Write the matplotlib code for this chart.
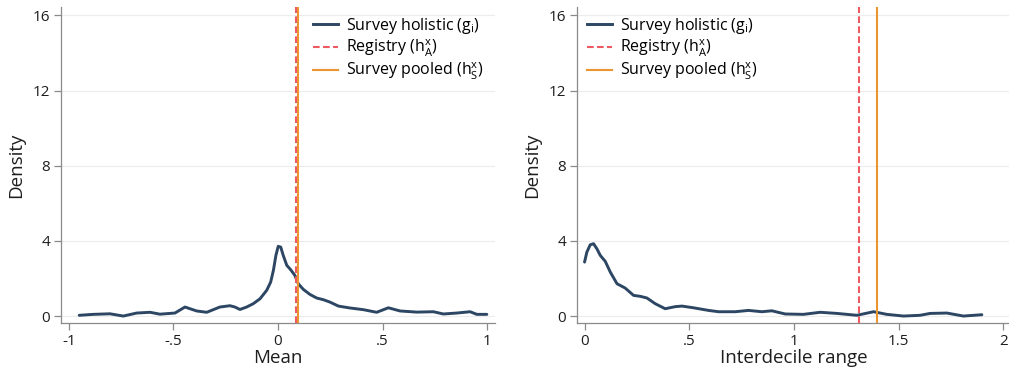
import matplotlib
matplotlib.use("Agg")
import matplotlib.pyplot as plt
from matplotlib.lines import Line2D

plt.rcParams['font.family'] = ['Open Sans', 'DejaVu Sans']
plt.rcParams['mathtext.fontset'] = 'custom'
plt.rcParams['mathtext.rm'] = 'Open Sans'

# ---- data: left panel (Mean) ----
mean_x = [-0.951, -0.884, -0.804, -0.74, -0.676, -0.612, -0.565, -0.493, -0.445, -0.389,
          -0.341, -0.278, -0.230, -0.206, -0.182, -0.150, -0.118, -0.086, -0.054, -0.035,
          -0.022, -0.010, 0.001, 0.013, 0.025, 0.042, 0.061, 0.081, 0.097, 0.121,
          0.153, 0.185, 0.217, 0.249, 0.289, 0.344, 0.408, 0.472, 0.528, 0.584,
          0.664, 0.743, 0.791, 0.855, 0.919, 0.951, 0.999]
mean_y = [0.04, 0.09, 0.12, 0.0, 0.16, 0.2, 0.1, 0.16, 0.48, 0.27,
          0.2, 0.48, 0.55, 0.48, 0.35, 0.48, 0.66, 0.92, 1.37, 1.81,
          2.43, 3.23, 3.71, 3.67, 3.23, 2.70, 2.46, 2.16, 1.72, 1.42,
          1.15, 0.96, 0.87, 0.74, 0.53, 0.43, 0.34, 0.2, 0.44, 0.27,
          0.21, 0.23, 0.11, 0.16, 0.23, 0.09, 0.09]
mean_registry = 0.087
mean_pooled = 0.094

# ---- data: right panel (Interdecile range) ----
idr_x = [0.0, 0.011, 0.027, 0.043, 0.059, 0.075, 0.099, 0.123, 0.155, 0.194,
         0.234, 0.266, 0.298, 0.337, 0.385, 0.433, 0.465, 0.520, 0.592, 0.64,
         0.719, 0.783, 0.847, 0.894, 0.958, 1.045, 1.125, 1.205, 1.30, 1.38,
         1.443, 1.523, 1.602, 1.65, 1.73, 1.809, 1.897]
idr_y = [2.87, 3.40, 3.79, 3.85, 3.58, 3.23, 2.91, 2.34, 1.72, 1.49,
         1.10, 1.05, 0.96, 0.66, 0.39, 0.50, 0.53, 0.44, 0.30, 0.23,
         0.23, 0.30, 0.23, 0.28, 0.11, 0.09, 0.2, 0.14, 0.04, 0.23,
         0.09, 0.0, 0.04, 0.14, 0.16, 0.0, 0.07]
idr_registry = 1.308
idr_pooled = 1.397

y_ticks = [0, 4, 8, 12, 16]
y_ticklabels = ['0', '4', '8', '12', '16']
mean_ticks = [-1, -0.5, 0, 0.5, 1]
mean_ticklabels = ['-1', '-.5', '0', '.5', '1']
idr_ticks = [0, 0.5, 1, 1.5, 2]
idr_ticklabels = ['0', '.5', '1', '1.5', '2']

legend_labels = [r'Survey holistic (g$_{\mathrm{i}}$)',
                 r'Registry (h$^{\mathrm{x}}_{\mathrm{A}}$)',
                 r'Survey pooled (h$^{\mathrm{x}}_{\mathrm{S}}$)']

NAVY = '#2c4663'
RED = '#ee5a62'
ORANGE = '#eb9530'
AXC = '#8a8a8a'
TXT = '#1e1e1e'

W, H = 1009, 371
fig = plt.figure(figsize=(W / 100, H / 100), dpi=100)

def px_axes(left, right, top, bottom):
    return fig.add_axes([left / W, (H - bottom) / H, (right - left) / W, (bottom - top) / H])

ax1 = px_axes(61, 495, 7, 323)
ax2 = px_axes(577, 1011, 7, 323)

def style(ax, xdata, ydata, reg, pool, xlim, xt, xtl, xlabel, legx):
    ax.plot(xdata, ydata, color=NAVY, lw=2.1, solid_joinstyle='round',
            solid_capstyle='round', zorder=3)
    ax.axvline(pool, color=ORANGE, lw=1.5, zorder=4)
    ax.axvline(reg, color=RED, lw=1.5, ls=(0, (3.2, 1.6)), zorder=5)
    ax.set_xlim(*xlim)
    ax.set_ylim(-0.37, 16.45)
    ax.set_yticks(y_ticks)
    ax.set_yticklabels(y_ticklabels)
    ax.set_xticks(xt)
    ax.set_xticklabels(xtl)
    ax.grid(axis='y', color='#ececec', lw=0.8, zorder=0)
    for s in ['top', 'right']:
        ax.spines[s].set_visible(False)
    for s in ['left', 'bottom']:
        ax.spines[s].set_color(AXC)
        ax.spines[s].set_linewidth(0.9)
    ax.tick_params(axis='both', colors=AXC, labelcolor=TXT, length=5, width=0.9,
                   labelsize=11, pad=3)
    ax.set_xlabel(xlabel, fontsize=13.5, color=TXT, labelpad=0)
    ax.set_ylabel('Density', fontsize=13.5, color=TXT, labelpad=5)
    handles = [Line2D([], [], color=NAVY, lw=2.1),
               Line2D([], [], color=RED, lw=1.5, ls=(0, (3.2, 1.6))),
               Line2D([], [], color=ORANGE, lw=1.5)]
    ax.legend(handles, legend_labels, loc='upper left',
              bbox_to_anchor=((legx - 577) / 434, 0.972), frameon=False,
              fontsize=11.5, handlelength=1.56, handletextpad=0.5, labelspacing=0.12,
              borderaxespad=0.0, borderpad=0.0)

style(ax1, mean_x, mean_y, mean_registry, mean_pooled, (-1.038, 1.038),
      mean_ticks, mean_ticklabels, 'Mean', 313 - 61 + 577)
style(ax2, idr_x, idr_y, idr_registry, idr_pooled, (-0.036, 2.036),
      idr_ticks, idr_ticklabels, 'Interdecile range', 587)

fig.savefig('out.png', dpi=100, facecolor='white')
